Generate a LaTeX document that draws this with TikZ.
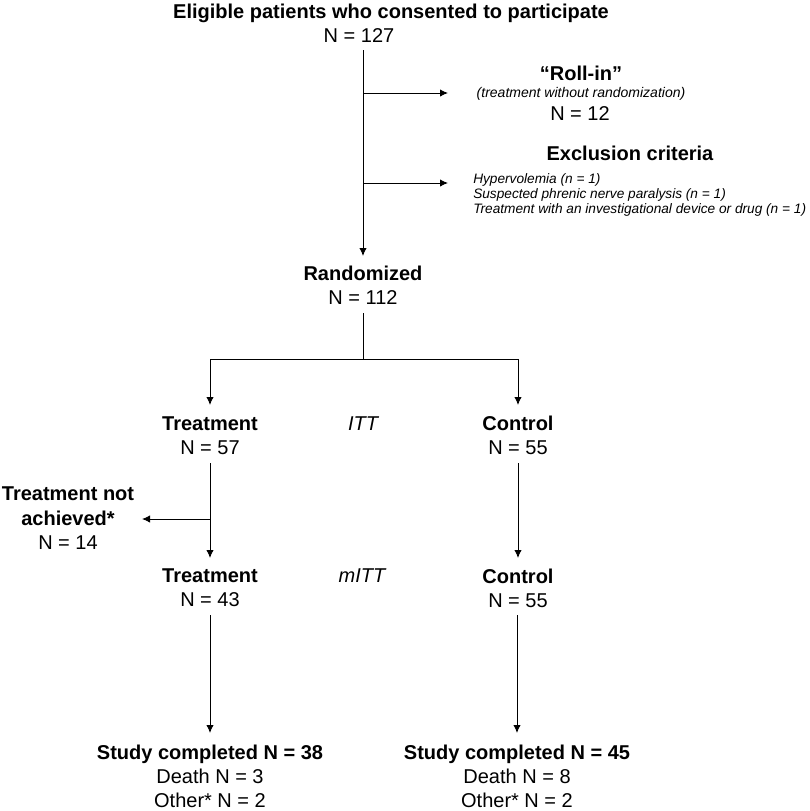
\documentclass[tikz,border=0pt]{standalone}
\usepackage{fontspec}
\setmainfont{Liberation Sans}
\usetikzlibrary{arrows.meta}
\begin{document}
\begin{tikzpicture}[x=0.75pt,y=-0.75pt,
  txt/.style={inner sep=0pt,anchor=base,font=\fontsize{15}{18}\selectfont},
  btxt/.style={txt,font=\fontsize{15}{18}\selectfont\bfseries},
  itxt/.style={txt,font=\fontsize{15}{18}\selectfont\itshape},
  small/.style={inner sep=0pt,anchor=base,font=\fontsize{10.5}{12.75}\selectfont\itshape},
  smallw/.style={inner sep=0pt,anchor=base west,font=\fontsize{10.25}{12.5}\selectfont\itshape},
  line/.style={line width=0.7pt},
  arr/.style={line width=0.7pt,-{Latex[length=6pt,width=5.5pt]}}]
\useasboundingbox (0,0) rectangle (810,811);
% top
\node[btxt] (elig) at (391,18) {Eligible patients who consented to participate};
\node[txt] (n127) at (359,42) {N = 127};
\node[btxt] (rollin) at (581,80) {“Roll-in”};
\node[small] (rollsub) at (581,97) {(treatment without randomization)};
\node[txt] (n12) at (580,120) {N = 12};
\node[btxt] (excl) at (630,160) {Exclusion criteria};
\node[smallw] (ex1) at (473,183) {Hypervolemia (n = 1)};
\node[smallw] (ex2) at (473,198) {Suspected phrenic nerve paralysis (n = 1)};
\node[smallw] (ex3) at (473,213) {Treatment with an investigational device or drug (n = 1)};
\node[btxt] (rand) at (363,280) {Randomized};
\node[txt] (n112) at (363,304) {N = 112};
% ITT
\node[btxt] (treat1) at (210,430) {Treatment};
\node[txt] (n57) at (210,454) {N = 57};
\node[itxt] (itt) at (363,430) {ITT};
\node[btxt] (ctrl1) at (518,430) {Control};
\node[txt] (n55a) at (518,454) {N = 55};
\node[btxt] (tna1) at (68,500) {Treatment not};
\node[btxt] (tna2) at (68,525) {achieved*};
\node[txt] (n14) at (68,549) {N = 14};
% mITT
\node[btxt] (treat2) at (210,582) {Treatment};
\node[txt] (n43) at (210,606) {N = 43};
\node[itxt] (mitt) at (362,582) {mITT};
\node[btxt] (ctrl2) at (518,583) {Control};
\node[txt] (n55b) at (518,607) {N = 55};
% completed
\node[btxt] (sc1) at (210,759) {Study completed N = 38};
\node[txt] (d1) at (210,783) {Death N = 3};
\node[txt] (o1) at (210,807) {Other* N = 2};
\node[btxt] (sc2) at (517,759) {Study completed N = 45};
\node[txt] (d2) at (517,783) {Death N = 8};
\node[txt] (o2) at (517,807) {Other* N = 2};
% coordinates
\coordinate (trunkTop) at (363,50);
\coordinate (trunkEnd) at (363,256);
\coordinate (br1) at (363,93);
\coordinate (br1e) at (448,93);
\coordinate (br2) at (363,183);
\coordinate (br2e) at (448,183);
\coordinate (rTop) at (363,313);
\coordinate (rJoin) at (363,359);
\coordinate (lJoin) at (210,359);
\coordinate (cJoin) at (518,359);
\coordinate (lArr) at (210,405);
\coordinate (cArr) at (518,405);
\coordinate (l2Top) at (210,463);
\coordinate (l2End) at (210,558);
\coordinate (c2Top) at (518,463);
\coordinate (c2End) at (518,558);
\coordinate (tnaJ) at (210,519);
\coordinate (tnaE) at (142,519);
\coordinate (l3Top) at (210,615);
\coordinate (l3End) at (210,733);
\coordinate (c3Top) at (517,615);
\coordinate (c3End) at (517,733);
% connectors
\draw[arr] (trunkTop) -- (trunkEnd);
\draw[arr] (br1) -- (br1e);
\draw[arr] (br2) -- (br2e);
\draw[line] (rTop) -- (rJoin);
\draw[arr] (rJoin) -- (lJoin) -- (lArr);
\draw[arr] (rJoin) -- (cJoin) -- (cArr);
\draw[arr] (l2Top) -- (l2End);
\draw[arr] (tnaJ) -- (tnaE);
\draw[arr] (c2Top) -- (c2End);
\draw[arr] (l3Top) -- (l3End);
\draw[arr] (c3Top) -- (c3End);
\end{tikzpicture}
\end{document}
